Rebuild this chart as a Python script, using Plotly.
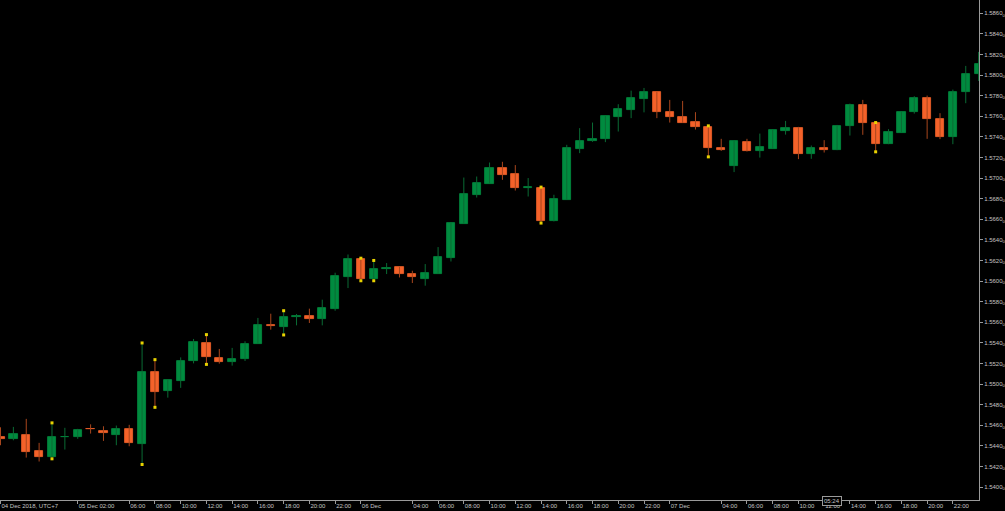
import plotly.graph_objects as go

# Hourly bars, 04 Dec 2018 20:00 (UTC+7) .. 08 Dec 2018 00:00
opens = [1.54487, 1.54468, 1.54510, 1.54348, 1.54293, 1.54485, 1.54487, 1.54567, 1.54548, 1.54510,
         1.54568, 1.54419, 1.55114, 1.54930, 1.55027, 1.55221, 1.55399, 1.55256, 1.55218, 1.55244,
         1.55392, 1.55577, 1.55557, 1.55652, 1.55661, 1.55635, 1.55732, 1.56035, 1.56214, 1.56020,
         1.56121, 1.56136, 1.56068, 1.56016, 1.56068, 1.56224, 1.56556, 1.56838, 1.56947, 1.57097,
         1.57038, 1.56906, 1.56908, 1.56585, 1.56789, 1.57287, 1.57358, 1.57380, 1.57597, 1.57662,
         1.57769, 1.57834, 1.57646, 1.57594, 1.57543, 1.57500, 1.57291, 1.57119, 1.57355, 1.57267,
         1.57287, 1.57461, 1.57485, 1.57235, 1.57291, 1.57271, 1.57504, 1.57713, 1.57536, 1.57329,
         1.57442, 1.57646, 1.57781, 1.57572, 1.57400, 1.57834, 1.58011]
highs = [1.54580, 1.54584, 1.54662, 1.54429, 1.54623, 1.54575, 1.54565, 1.54609, 1.54590, 1.54597,
         1.54604, 1.55399, 1.55237, 1.55043, 1.55259, 1.55438, 1.55480, 1.55341, 1.55351, 1.55415,
         1.55642, 1.55683, 1.55712, 1.55680, 1.55732, 1.55819, 1.56081, 1.56258, 1.56222, 1.56200,
         1.56175, 1.56139, 1.56100, 1.56165, 1.56330, 1.56569, 1.57005, 1.57015, 1.57151, 1.57158,
         1.57126, 1.57000, 1.56912, 1.56838, 1.57323, 1.57485, 1.57539, 1.57604, 1.57717, 1.57849,
         1.57875, 1.57837, 1.57759, 1.57749, 1.57640, 1.57507, 1.57381, 1.57364, 1.57381, 1.57432,
         1.57471, 1.57555, 1.57497, 1.57316, 1.57368, 1.57516, 1.57723, 1.57759, 1.57539, 1.57475,
         1.57646, 1.57795, 1.57801, 1.57630, 1.57859, 1.58089, 1.58225]
lows = [1.54406, 1.54454, 1.54286, 1.54248, 1.54274, 1.54364, 1.54468, 1.54519, 1.54448, 1.54406,
        1.54396, 1.54219, 1.54774, 1.54868, 1.54963, 1.55201, 1.55191, 1.55198, 1.55179, 1.55224,
        1.55392, 1.55528, 1.55477, 1.55570, 1.55593, 1.55570, 1.55712, 1.55932, 1.56003, 1.56003,
        1.56068, 1.56035, 1.55981, 1.55955, 1.56068, 1.56190, 1.56556, 1.56811, 1.56947, 1.56983,
        1.56879, 1.56821, 1.56563, 1.56579, 1.56789, 1.57242, 1.57352, 1.57349, 1.57452, 1.57582,
        1.57638, 1.57582, 1.57539, 1.57536, 1.57471, 1.57206, 1.57264, 1.57058, 1.57258, 1.57199,
        1.57287, 1.57422, 1.57184, 1.57187, 1.57248, 1.57271, 1.57413, 1.57420, 1.57255, 1.57329,
        1.57442, 1.57626, 1.57381, 1.57378, 1.57329, 1.57727, 1.57943]
closes = [1.54468, 1.54516, 1.54342, 1.54289, 1.54487, 1.54489, 1.54558, 1.54563, 1.54526, 1.54561,
          1.54429, 1.55114, 1.54924, 1.55036, 1.55221, 1.55405, 1.55259, 1.55218, 1.55247, 1.55392,
          1.55574, 1.55560, 1.55651, 1.55656, 1.55635, 1.55735, 1.56052, 1.56217, 1.56020, 1.56120,
          1.56125, 1.56068, 1.56035, 1.56078, 1.56229, 1.56563, 1.56847, 1.56951, 1.57097, 1.57034,
          1.56903, 1.56910, 1.56588, 1.56796, 1.57293, 1.57364, 1.57378, 1.57604, 1.57672, 1.57776,
          1.57832, 1.57640, 1.57591, 1.57539, 1.57494, 1.57291, 1.57274, 1.57364, 1.57264, 1.57303,
          1.57471, 1.57485, 1.57232, 1.57291, 1.57277, 1.57504, 1.57713, 1.57533, 1.57335, 1.57452,
          1.57646, 1.57776, 1.57572, 1.57400, 1.57834, 1.58011, 1.58105]

# bars carrying the yellow high/low markers
marked_bars = [4, 11, 12, 16, 22, 28, 29, 42, 55, 68]

x_tick_pos = [0, 6, 10, 12, 14, 16, 18, 20, 22, 24, 26, 28, 32, 34, 36, 38, 40, 42, 44, 46, 48, 50,
              52, 56, 58, 60, 62, 64, 66, 68, 70, 72, 74]
x_tick_labels = ["04 Dec 2018, UTC+7", "05 Dec 02:00", "06:00", "08:00", "10:00", "12:00", "14:00",
                 "16:00", "18:00", "20:00", "22:00", "06 Dec", "04:00", "06:00", "08:00", "10:00",
                 "12:00", "14:00", "16:00", "18:00", "20:00", "22:00", "07 Dec", "04:00", "06:00",
                 "08:00", "10:00", "12:00", "14:00", "16:00", "18:00", "20:00", "22:00"]
y_tick_labels = ["1.5400", "1.5420", "1.5440", "1.5460", "1.5480", "1.5500", "1.5520", "1.5540",
                 "1.5560", "1.5580", "1.5600", "1.5620", "1.5640", "1.5660", "1.5680", "1.5700",
                 "1.5720", "1.5740", "1.5760", "1.5780", "1.5800", "1.5820", "1.5840", "1.5860"]

UP = "#008B3F"
DOWN = "#F4622A"
UP_WICK = "#0A6B34"
DOWN_WICK = "#A8461D"
AXIS = "#9a9a9a"
TXT = "#c4c4c4"

idx = list(range(len(opens)))
up = [c >= o for o, c in zip(opens, closes)]

fig = go.Figure()

for is_up, col in ((True, UP_WICK), (False, DOWN_WICK)):
    wx, wy = [], []
    for i in idx:
        if up[i] == is_up:
            wx += [i, i, None]
            wy += [lows[i], highs[i], None]
    fig.add_trace(go.Scatter(x=wx, y=wy, mode="lines", line=dict(color=col, width=1),
                             hoverinfo="skip", showlegend=False))

body_base = [min(o, c) for o, c in zip(opens, closes)]
body_len = [abs(c - o) for o, c in zip(opens, closes)]
body_col = [UP if u else DOWN for u in up]
fig.add_trace(go.Bar(x=idx, y=body_len, base=body_base, width=0.64,
                     marker=dict(color=body_col, line=dict(color=body_col, width=0.8)),
                     showlegend=False, hoverinfo="skip"))

mx = [i for i in marked_bars for _ in (0, 1)]
my = [v for i in marked_bars for v in (highs[i], lows[i])]
fig.add_trace(go.Scatter(x=mx, y=my, mode="markers",
                         marker=dict(symbol="square", size=3, color="#E8D200"),
                         hoverinfo="skip", showlegend=False))

fig.add_annotation(x=64.6, y=0, xref="x", yref="paper", yanchor="middle", yshift=-1,
                   text="05:24", showarrow=False,
                   font=dict(size=6, color=TXT, family="Liberation Sans"),
                   bgcolor="#000000", bordercolor=AXIS, borderwidth=1, borderpad=1)

fig.update_layout(
    width=1005, height=511,
    margin=dict(l=0, r=26, t=0, b=11, pad=0),
    paper_bgcolor="#000000", plot_bgcolor="#000000",
    showlegend=False, bargap=0,
    font=dict(family="Liberation Sans", size=6, color=TXT),
    xaxis=dict(range=[-0.04, 76.03], showgrid=False, zeroline=False, automargin=False,
               tickmode="array", tickvals=x_tick_pos, ticktext=x_tick_labels, tickangle=0,
               ticks="outside", ticklen=3, tickcolor=AXIS,
               ticklabelposition="outside right", ticklabelstandoff=0,
               showline=True, linecolor=AXIS, linewidth=1,
               tickfont=dict(size=6, color=TXT)),
    yaxis=dict(range=[1.538742, 1.587290], side="right", showgrid=False, zeroline=False,
               automargin=False,
               tickmode="array", tickvals=[float(s) for s in y_tick_labels],
               ticktext=[s + "<sub>0</sub>" for s in y_tick_labels],
               ticks="outside", ticklen=3, tickcolor=AXIS,
               showline=True, linecolor=AXIS, linewidth=1,
               tickfont=dict(size=6, color=TXT)),
)

fig.write_html("out.html", config={"displayModeBar": False},
               post_script="document.body.style.margin='0';document.body.style.background='#000';")
